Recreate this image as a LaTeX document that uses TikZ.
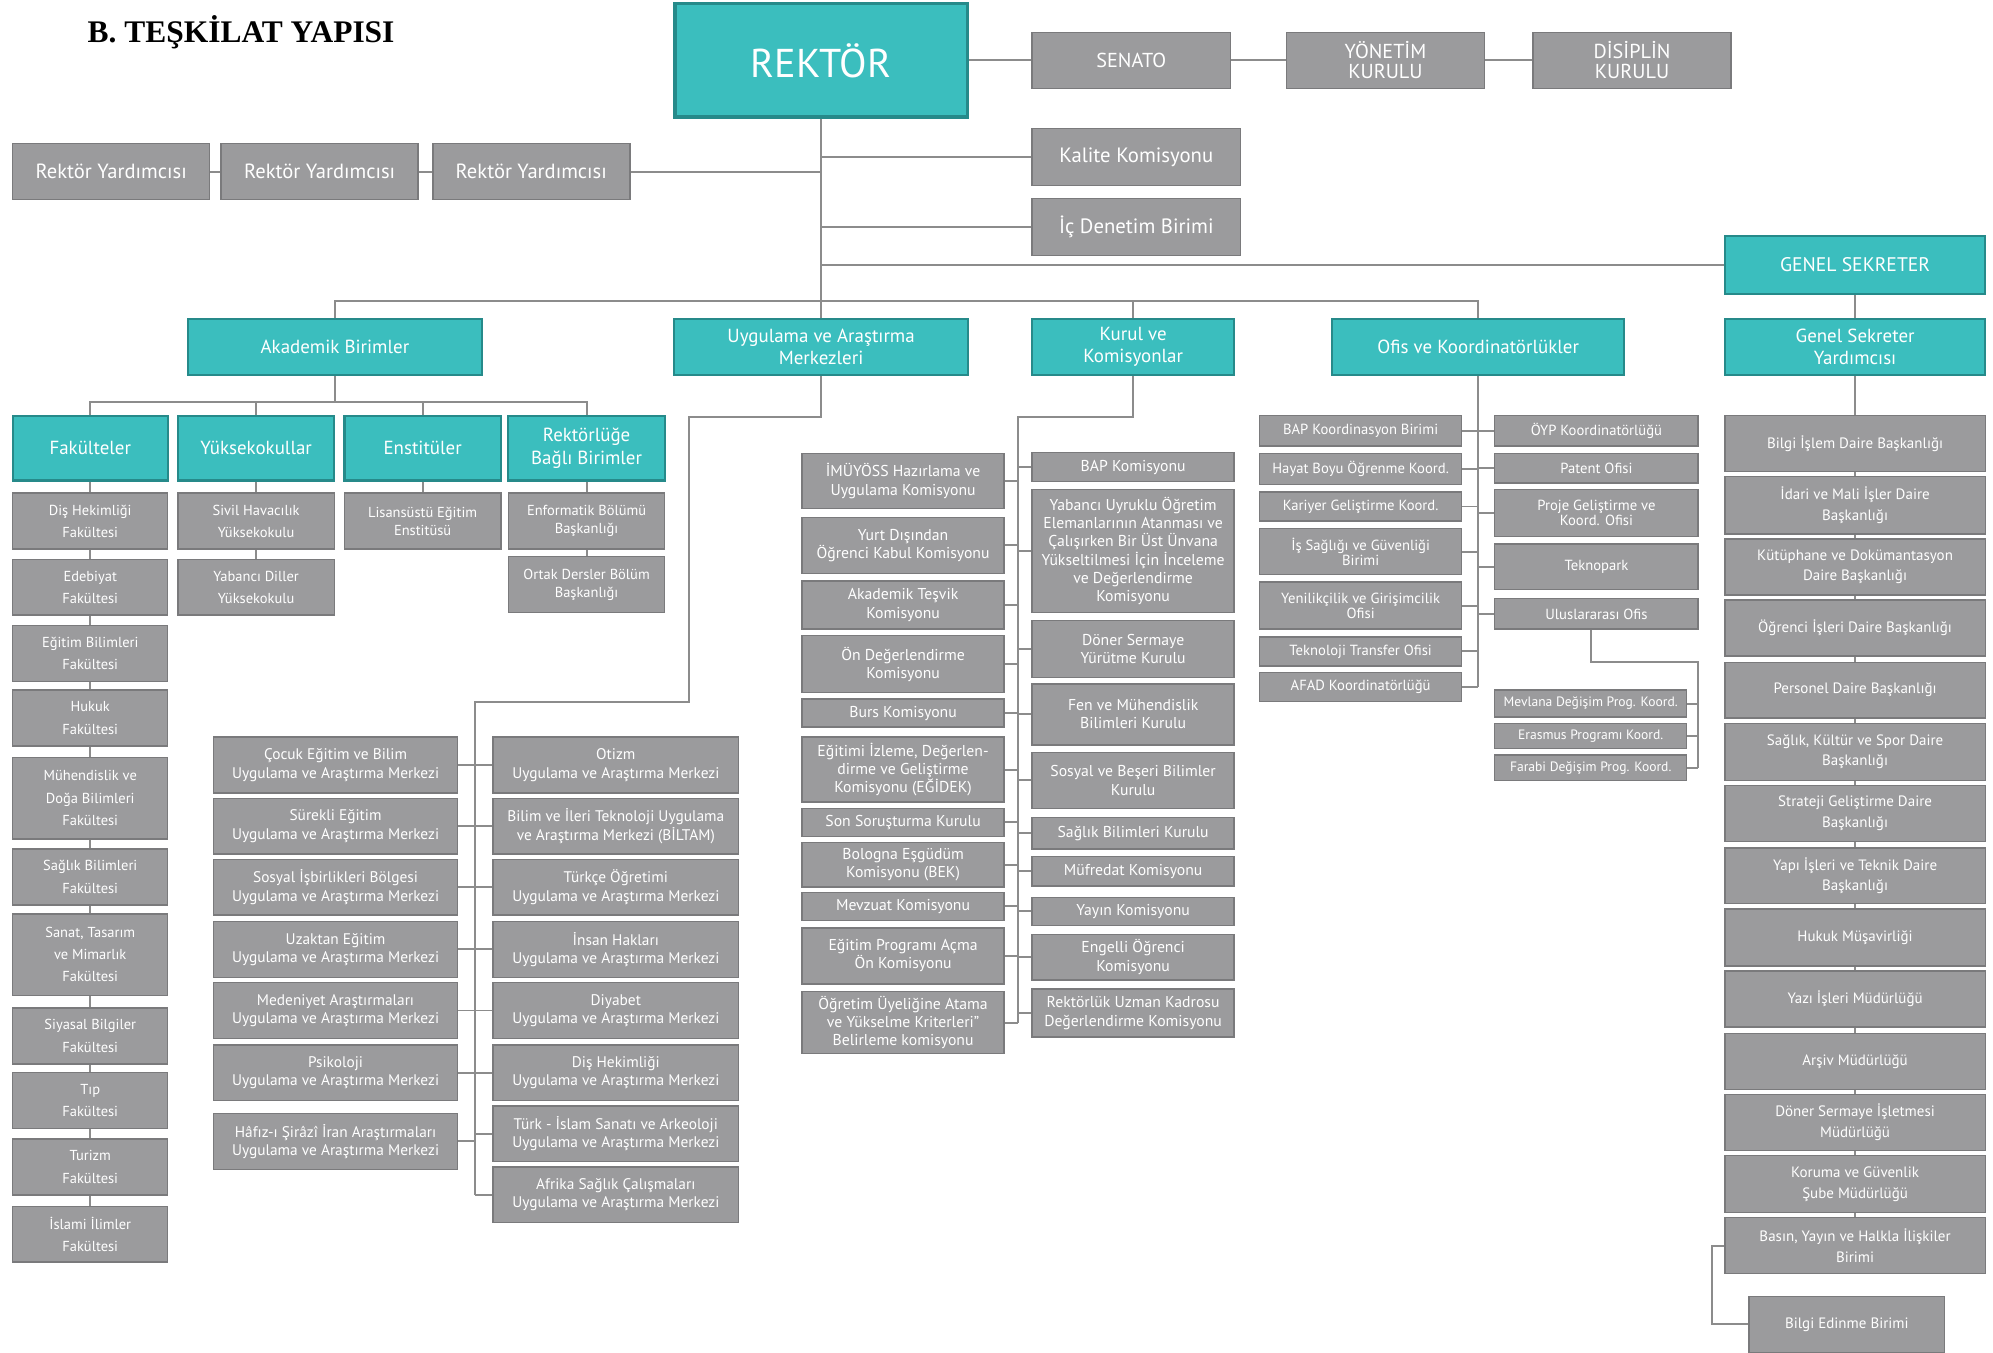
\documentclass[tikz,border=0pt]{standalone}
\usepackage{fontspec}
\setmainfont{PT Sans}
\newfontfamily\basfont{Liberation Serif}
\usetikzlibrary{calc}
\definecolor{turkuaz}{RGB}{59,190,190}
\definecolor{turkuazkoyu}{RGB}{38,138,138}
\definecolor{gri}{RGB}{155,155,157}
\definecolor{grikoyu}{RGB}{122,122,124}
\definecolor{cizgi}{RGB}{140,140,140}

\begin{document}
\begin{tikzpicture}[x=0.025cm, y=-0.025cm,
        ln/.style={draw=cizgi, line width=1.1pt},
        tbox/.style={draw=turkuazkoyu, fill=turkuaz, line width=1.2pt, text=white, align=center, inner sep=1pt},
        gbox/.style={draw=grikoyu, fill=gri, line width=0.8pt, text=white, align=center, inner sep=1pt},
        wh/.style 2 args={minimum width=(#1)*0.025cm, minimum height=(#2)*0.025cm},
        ust/.style={font=\fontsize{11.3}{11.3}\selectfont},
        yrd/.style={font=\fontsize{11.5}{12}\selectfont},
        kom/.style={font=\fontsize{11.6}{12}\selectfont},
        bas/.style={font=\fontsize{10.6}{12.6}\selectfont},
        fkt/.style={font=\fontsize{8.1}{12.5}\selectfont},
        mrk/.style={font=\fontsize{8.6}{10.3}\selectfont},
        krl/.style={font=\fontsize{8.8}{10.2}\selectfont},
        ofs/.style={font=\fontsize{8.2}{8.6}\selectfont},
        alt/.style={font=\fontsize{7.6}{8}\selectfont},
        gsk/.style={font=\fontsize{8.4}{11.5}\selectfont}
    ]
    \useasboundingbox (0,0) rectangle (1568,1064);

    % ust kisim
    \node[font=\basfont\bfseries\fontsize{17.6}{20}\selectfont, anchor=west] (baslik) at (64,25) {B. TEŞKİLAT YAPISI};
    \node[tbox, wh={230}{89}, line width=1.8pt, font=\fontsize{22.5}{24}\selectfont] (rektor) at (646,47.5) {REKTÖR};
    \node[gbox, wh={156}{44}, ust] (senato) at (890,47.5) {SENATO};
    \node[gbox, wh={156}{44}, ust] (yonetim) at (1090,47.5) {YÖNETİM\\KURULU};
    \node[gbox, wh={156}{44}, ust] (disiplin) at (1284,47.5) {DİSİPLİN\\KURULU};
    \draw[ln] (rektor) -- (senato) -- (yonetim) -- (disiplin);

    \foreach \n/\x in {1/87.5, 2/251.5, 3/418}
        \node[gbox, wh={155}{44}, yrd] (ry\n) at (\x,135) {Rektör Yardımcısı};
    \draw[ln] (ry1) -- (ry2) -- (ry3) -- (ry3 -| rektor);

    \node[gbox, wh={164}{45}, kom] (kalite) at (894,123.5) {Kalite Komisyonu};
    \node[gbox, wh={164}{45}, kom] (icdenetim) at (894,178.5) {İç Denetim Birimi};
    \node[tbox, wh={205}{45}, bas, font=\fontsize{11}{12}\selectfont] (gensek) at (1459.5,208.5) {GENEL SEKRETER};
    \draw[ln] (kalite) -- (kalite -| rektor);
    \draw[ln] (icdenetim) -- (icdenetim -| rektor);
    \draw[ln] (gensek) -- (gensek -| rektor);

    % ikinci seviye
    \node[tbox, wh={231}{44}, bas] (akad) at (263.5,273) {Akademik Birimler};
    \node[tbox, wh={231}{44}, bas] (uyg) at (646,273) {Uygulama ve Araştırma\\Merkezleri};
    \node[tbox, wh={159}{44}, bas] (kurul) at (891.5,273) {Kurul ve\\Komisyonlar};
    \node[tbox, wh={230}{44}, bas] (ofis) at (1163,273) {Ofis ve Koordinatörlükler};
    \node[tbox, wh={205}{44}, bas] (gsy) at (1459.5,273) {Genel Sekreter\\Yardımcısı};
    \coordinate (bus) at (646,237);
    \draw[ln] (rektor) -- (uyg);
    \draw[ln] (akad) |- (bus) -| (ofis);
    \draw[ln] (kurul) -- (kurul |- bus);
    \draw[ln] (gensek) -- (gsy);

    % akademik birimler
    \coordinate (abus) at (263.5,316);
    \node[tbox, wh={122}{51}, bas] (fak) at (71,352.5) {Fakülteler};
    \node[tbox, wh={123}{51}, bas] (yok) at (201.5,352.5) {Yüksekokullar};
    \node[tbox, wh={123}{51}, bas] (ens) at (332.5,352.5) {Enstitüler};
    \node[tbox, wh={123}{51}, bas] (rbb) at (461.5,352.5) {Rektörlüğe\\Bağlı Birimler};
    \draw[ln] (akad) -- (abus);
    \draw[ln] (fak) |- (abus) -| (rbb);
    \draw[ln] (yok) -- (yok |- abus);
    \draw[ln] (ens) -- (ens |- abus);

    \foreach \i/\ya/\yb/\t in {1/388/432/{Diş Hekimliği\\Fakültesi}, 2/440/484/{Edebiyat\\Fakültesi},
            3/492/536/{Eğitim Bilimleri\\Fakültesi}, 4/543/587/{Hukuk\\Fakültesi},
            5/596/660/{Mühendislik ve\\Doğa Bilimleri\\Fakültesi}, 6/668/712/{Sağlık Bilimleri\\Fakültesi},
            7/719/783/{Sanat, Tasarım\\ve Mimarlık\\Fakültesi}, 8/793/837/{Siyasal Bilgiler\\Fakültesi},
            9/844/888/{Tıp\\Fakültesi}, 10/896/940/{Turizm\\Fakültesi}, 11/949/993/{İslami İlimler\\Fakültesi}}
        \node[gbox, wh={122}{\yb-\ya}, fkt] (fk\i) at (71,{(\ya+\yb)/2}) {\t};
    \draw[ln] (fak) -- (fk1);
    \foreach \i [remember=\i as \j (initially 1)] in {2,...,11}
        \draw[ln] (fk\j) -- (fk\i);

    \node[gbox, wh={123}{44}, fkt] (yk1) at (201.5,410) {Sivil Havacılık\\Yüksekokulu};
    \node[gbox, wh={123}{44}, fkt] (yk2) at (201.5,462) {Yabancı Diller\\Yüksekokulu};
    \node[gbox, wh={123}{44}, fkt, font=\fontsize{8.1}{10.2}\selectfont] (en1) at (332.5,410) {Lisansüstü Eğitim\\Enstitüsü};
    \node[gbox, wh={123}{44}, fkt, font=\fontsize{8.1}{10.2}\selectfont] (rb1) at (461.5,410) {Enformatik Bölümü\\Başkanlığı};
    \node[gbox, wh={123}{44}, fkt, font=\fontsize{8.1}{10.2}\selectfont] (rb2) at (461.5,460) {Ortak Dersler Bölüm\\Başkanlığı};
    \draw[ln] (yok) -- (yk1) -- (yk2);
    \draw[ln] (ens) -- (en1);
    \draw[ln] (rbb) -- (rb1) -- (rb2);

    % uygulama ve arastirma merkezleri
    \coordinate (u1) at (646,328);
    \coordinate (u2) at (542,328);
    \coordinate (u3) at (542,552);
    \coordinate (u4) at (374,552);
    \coordinate (u5) at (374,940);
    \draw[ln] (uyg) -- (u1) -- (u2) -- (u3) -- (u4) -- (u5);
    \foreach \i/\y/\t in {1/602/{Çocuk Eğitim ve Bilim}, 2/650/{Sürekli Eğitim}, 3/698/{Sosyal İşbirlikleri Bölgesi},
            4/747/{Uzaktan Eğitim}, 5/795/{Medeniyet Araştırmaları}, 6/844/{Psikoloji},
            7/898/{Hâfız-ı Şirâzî İran Araştırmaları}}
    {
        \node[gbox, wh={192}{44}, mrk] (ml\i) at (264,\y) {\t\\Uygulama ve Araştırma Merkezi};
        \draw[ln] (ml\i) -- (ml\i -| u4);
    }
    \foreach \i/\y/\t in {1/602/{Otizm\\Uygulama ve Araştırma Merkezi},
            2/650/{Bilim ve İleri Teknoloji Uygulama\\ve Araştırma Merkezi (BİLTAM)},
            3/698/{Türkçe Öğretimi\\Uygulama ve Araştırma Merkezi}, 4/747/{İnsan Hakları\\Uygulama ve Araştırma Merkezi},
            5/795/{Diyabet\\Uygulama ve Araştırma Merkezi}, 6/844/{Diş Hekimliği\\Uygulama ve Araştırma Merkezi},
            7/892/{Türk - İslam Sanatı ve Arkeoloji\\Uygulama ve Araştırma Merkezi},
            8/940/{Afrika Sağlık Çalışmaları\\Uygulama ve Araştırma Merkezi}}
    {
        \node[gbox, wh={193}{44}, mrk] (mr\i) at (484.5,\y) {\t};
        \draw[ln] (mr\i) -- (mr\i -| u4);
    }

    % kurul ve komisyonlar
    \coordinate (k1) at (891.5,328);
    \coordinate (k2) at (801,328);
    \coordinate (k3) at (801,805);
    \draw[ln] (kurul) -- (k1) -- (k2) -- (k3);
    \foreach \i/\ya/\yb/\t in {1/357/400/{İMÜYÖSS Hazırlama ve\\Uygulama Komisyonu},
            2/407/451/{Yurt Dışından\\Öğrenci Kabul Komisyonu}, 3/457/495/{Akademik Teşvik\\Komisyonu},
            4/500/545/{Ön Değerlendirme\\Komisyonu}, 5/550/572/{Burs Komisyonu},
            6/580/631/{Eğitimi İzleme, Değerlen-\\dirme ve Geliştirme\\Komisyonu (EĞİDEK)},
            7/636/658/{Son Soruşturma Kurulu}, 8/663/698/{Bologna Eşgüdüm\\Komisyonu (BEK)},
            9/702/724/{Mevzuat Komisyonu}, 10/730/774/{Eğitim Programı Açma\\Ön Komisyonu},
            11/780/829/{Öğretim Üyeliğine Atama\\ve Yükselme Kriterleri"\\Belirleme komisyonu}}
    {
        \node[gbox, wh={159}{\yb-\ya}, krl] (kl\i) at (710.5,{(\ya+\yb)/2}) {\t};
        \draw[ln] (kl\i) -- (kl\i -| k2);
    }
    \foreach \i/\ya/\yb/\t in {1/356/379/{BAP Komisyonu},
            2/385/482/{Yabancı Uyruklu Öğretim\\Elemanlarının Atanması ve\\Çalışırken Bir Üst Ünvana\\Yükseltilmesi İçin İnceleme\\ve Değerlendirme\\Komisyonu},
            3/488/533/{Döner Sermaye\\Yürütme Kurulu}, 4/538/586/{Fen ve Mühendislik\\Bilimleri Kurulu},
            5/592/636/{Sosyal ve Beşeri Bilimler\\Kurulu}, 6/643/668/{Sağlık Bilimleri Kurulu},
            7/674/697/{Müfredat Komisyonu}, 8/706/728/{Yayın Komisyonu},
            9/735/771/{Engelli Öğrenci\\Komisyonu}, 10/778/816/{Rektörlük Uzman Kadrosu\\Değerlendirme Komisyonu}}
    {
        \node[gbox, wh={159}{\yb-\ya}, krl] (kr\i) at (891.5,{(\ya+\yb)/2}) {\t};
        \draw[ln] (kr\i) -- (kr\i -| k2);
    }

    % ofis ve koordinatorlukler
    \coordinate (o1) at (1163,540.5);
    \draw[ln] (ofis) -- (o1);
    \foreach \i/\ya/\yb/\t in {1/327/351/{BAP Koordinasyon Birimi}, 2/357/381/{Hayat Boyu Öğrenme Koord.},
            3/387/410/{Kariyer Geliştirme Koord.}, 4/416/452/{İş Sağlığı ve Güvenliği\\Birimi},
            5/458/495/{Yenilikçilik ve Girişimcilik\\Ofisi}, 6/501/524/{Teknoloji Transfer Ofisi},
            7/529/552/{AFAD Koordinatörlüğü}}
    {
        \node[gbox, wh={159}{\yb-\ya}, ofs] (ol\i) at (1070.5,{(\ya+\yb)/2}) {\t};
        \draw[ln] (ol\i) -- (ol\i -| o1);
    }
    \foreach \i/\ya/\yb/\t in {1/327/351/{ÖYP Koordinatörlüğü}, 2/357/380/{Patent Ofisi},
            3/385/422/{Proje Geliştirme ve\\Koord. Ofisi}, 4/428/464/{Teknopark}, 5/471/495/{Uluslararası Ofis}}
    {
        \node[gbox, wh={160}{\yb-\ya}, ofs] (or\i) at (1256,{(\ya+\yb)/2}) {\t};
        \draw[ln] (or\i) -- (or\i -| o1);
    }
    \coordinate (o2) at (1252,521);
    \coordinate (o3) at (1336,521);
    \coordinate (o4) at (1336,604);
    \draw[ln] (or5.south -| o2) -- (o2) -- (o3) -- (o4);
    \foreach \i/\ya/\yb/\t in {1/543/564/{Mevlana Değişim Prog. Koord.}, 2/569/589/{Erasmus Programı Koord.},
            3/594/614/{Farabi Değişim Prog. Koord.}}
    {
        \node[gbox, wh={151}{\yb-\ya}, alt] (ou\i) at (1251.5,{(\ya+\yb)/2}) {\t};
        \draw[ln] (ou\i) -- (ou\i -| o3);
    }

    % genel sekreter yardimcisi
    \foreach \i/\ya/\yb/\t in {1/327/371/{Bilgi İşlem Daire Başkanlığı}, 2/375/420/{İdari ve Mali İşler Daire\\Başkanlığı},
            3/424/468/{Kütüphane ve Dokümantasyon\\Daire Başkanlığı}, 4/472/516/{Öğrenci İşleri Daire Başkanlığı},
            5/521/565/{Personel Daire Başkanlığı}, 6/569/614/{Sağlık, Kültür ve Spor Daire\\Başkanlığı},
            7/618/662/{Strateji Geliştirme Daire\\Başkanlığı}, 8/667/711/{Yapı İşleri ve Teknik Daire\\Başkanlığı},
            9/715/760/{Hukuk Müşavirliği}, 10/764/808/{Yazı İşleri Müdürlüğü}, 11/813/857/{Arşiv Müdürlüğü},
            12/861/905/{Döner Sermaye İşletmesi\\Müdürlüğü}, 13/909/954/{Koruma ve Güvenlik\\Şube Müdürlüğü},
            14/958/1002/{Basın, Yayın ve Halkla İlişkiler\\Birimi}}
        \node[gbox, wh={205}{\yb-\ya}, gsk] (gs\i) at (1459.5,{(\ya+\yb)/2}) {\t};
    \draw[ln] (gsy) -- (gs1);
    \foreach \i [remember=\i as \j (initially 1)] in {2,...,14}
        \draw[ln] (gs\j) -- (gs\i);
    \node[gbox, wh={154}{44}, gsk] (bilgied) at (1453,1042) {Bilgi Edinme Birimi};
    \coordinate (gb) at (1347,980);
    \draw[ln] (gs14) -- (gb) |- (bilgied);
\end{tikzpicture}
\end{document}
